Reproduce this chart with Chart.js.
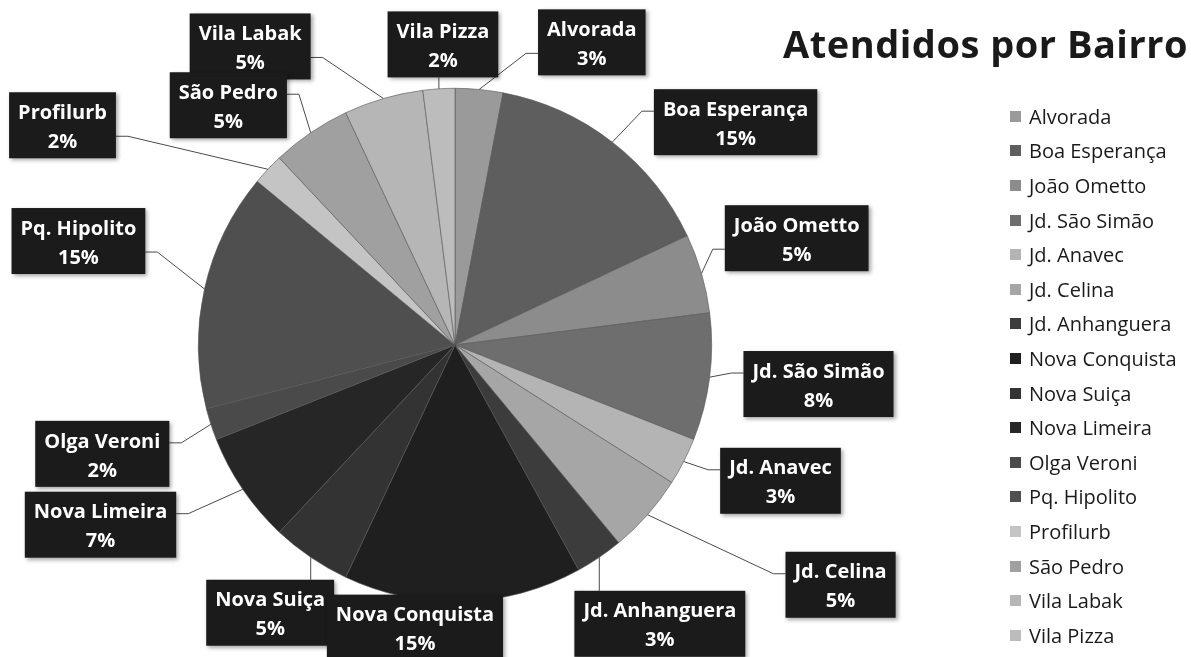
<!DOCTYPE html>
<html lang="pt-BR">
<head>
<meta charset="utf-8">
<title>Atendidos por Bairro</title>
<script src="https://cdn.jsdelivr.net/npm/chart.js@4.4.1/dist/chart.umd.min.js"></script>
<style>
  html, body { margin: 0; padding: 0; background: #fff; }
  #wrap { position: relative; width: 1191px; height: 657px; overflow: hidden; font-family: 'Open Sans', sans-serif; }
  #pizza { position: absolute; left: 0; top: 0; }
  #titulo { position: absolute; right: 3px; top: 24px; font-size: 38px; line-height: 38px; letter-spacing: 0.5px; font-weight: 700; color: #1a1a1a; white-space: nowrap; }
  #legenda { position: absolute; left: 1010px; top: 99px; }
  .leg-row { height: 34.6px; display: flex; align-items: center; font-size: 20px; color: #1a1a1a; white-space: nowrap; }
  .leg-box { width: 11px; height: 11px; margin-right: 8px; }
</style>
</head>
<body>
<div id="wrap">
  <canvas id="pizza" width="1191" height="657"></canvas>
  <div id="titulo">Atendidos por Bairro</div>
  <div id="legenda"></div>
</div>
<script>
/* Pizza "Atendidos por Bairro": fatias em tons de cinza, rótulos em caixas pretas
 * com linhas de chamada, legenda à direita. */

var bairros = ['Alvorada', 'Boa Esperança', 'João Ometto', 'Jd. São Simão', 'Jd. Anavec',
  'Jd. Celina', 'Jd. Anhanguera', 'Nova Conquista', 'Nova Suiça', 'Nova Limeira',
  'Olga Veroni', 'Pq. Hipolito', 'Profilurb', 'São Pedro', 'Vila Labak', 'Vila Pizza'];

var percentuais = [3, 15, 5, 8, 3, 5, 3, 15, 5, 7, 2, 15, 2, 5, 5, 2];

var tonsCinza = ['#9a9a9a', '#5e5e5e', '#8c8c8c', '#6e6e6e', '#b4b4b4',
  '#a6a6a6', '#3c3c3c', '#1f1f1f', '#333333', '#262626',
  '#4a4a4a', '#4f4f4f', '#c4c4c4', '#a0a0a0', '#b6b6b6', '#bcbcbc'];

// centro de cada caixa de rótulo, relativo ao centro da pizza, em raios
var rotuloDx = [0.533, 1.093, 1.331, 1.416, 1.268, 1.502, 0.798, -0.156,
  -0.720, -1.381, -1.374, -1.467, -1.529, -0.883, -0.798, -0.047];
var rotuloDy = [-1.179, -0.868, -0.416, 0.152, 0.529, 0.934, 1.086, 1.101,
  1.043, 0.700, 0.424, -0.405, -0.856, -0.934, -1.163, -1.171];

var rotulosPlugin = {
  id: 'rotulos',
  afterDatasetsDraw: function (chart) {
    var ctx = chart.ctx;
    var arcs = chart.getDatasetMeta(0).data;
    ctx.save();
    ctx.font = 'bold 20px "Open Sans"';

    var caixas = arcs.map(function (arc, i) {
      var p = arc.getProps(['x', 'y', 'startAngle', 'endAngle', 'outerRadius'], true);
      var meio = (p.startAngle + p.endAngle) / 2;
      var nome = chart.data.labels[i];
      var pct = chart.data.datasets[0].data[i] + '%';
      var w = Math.max(ctx.measureText(nome).width, ctx.measureText(pct).width) + 18;
      var h = 66;
      var cx = p.x + rotuloDx[i] * p.outerRadius;
      var cy = p.y + rotuloDy[i] * p.outerRadius;
      return {
        px: p.x + Math.cos(meio) * p.outerRadius,
        py: p.y + Math.sin(meio) * p.outerRadius,
        nome: nome, pct: pct,
        left: cx - w / 2, top: cy - h / 2, w: w, h: h
      };
    });

    // linhas de chamada
    ctx.strokeStyle = '#4a4a4a';
    ctx.lineWidth = 1;
    caixas.forEach(function (c) {
      var right = c.left + c.w, bottom = c.top + c.h;
      var ex, ey, kx, ky;
      if (c.px >= c.left && c.px <= right) {
        if (c.py > c.top && c.py < bottom) return;
        ex = c.px; ey = c.py < c.top ? c.top : bottom;
        kx = ex; ky = ey;
      } else {
        ex = c.px < c.left ? c.left : right;
        ey = c.py > bottom ? bottom - 22 : c.top + 22;
        kx = ex + (c.px < c.left ? -12 : 12); ky = ey;
      }
      ctx.beginPath();
      ctx.moveTo(c.px, c.py);
      ctx.lineTo(kx, ky);
      ctx.lineTo(ex, ey);
      ctx.stroke();
    });

    // caixas (de trás pra frente: São Pedro fica sobre Vila Labak)
    for (var i = caixas.length - 1; i >= 0; i--) {
      var c = caixas[i];
      ctx.save();
      ctx.shadowColor = 'rgba(0,0,0,0.35)';
      ctx.shadowBlur = 4;
      ctx.shadowOffsetX = 2;
      ctx.shadowOffsetY = 2;
      ctx.fillStyle = '#1b1b1b';
      ctx.fillRect(c.left, c.top, c.w, c.h);
      ctx.restore();
      ctx.fillStyle = '#ffffff';
      ctx.textAlign = 'center';
      ctx.textBaseline = 'middle';
      ctx.fillText(c.nome, c.left + c.w / 2, c.top + 21);
      ctx.fillText(c.pct, c.left + c.w / 2, c.top + 50);
    }
    ctx.restore();
  }
};

var grafico = new Chart(document.getElementById('pizza'), {
  type: 'pie',
  data: {
    labels: bairros,
    datasets: [{
      data: percentuais,
      backgroundColor: tonsCinza,
      borderColor: '#555555',
      borderWidth: 0.6
    }]
  },
  options: {
    responsive: false,
    animation: false,
    layout: { padding: { left: 198, right: 479, top: 88, bottom: 55 } },
    plugins: {
      legend: { display: false },
      title: { display: false },
      tooltip: { enabled: false }
    }
  },
  plugins: [rotulosPlugin]
});

function montarLegenda(chart) {
  var wrap = document.getElementById('legenda');
  wrap.innerHTML = '';
  chart.data.labels.forEach(function (nome, i) {
    var row = document.createElement('div');
    row.className = 'leg-row';
    var box = document.createElement('span');
    box.className = 'leg-box';
    box.style.background = chart.data.datasets[0].backgroundColor[i];
    var txt = document.createElement('span');
    txt.textContent = nome;
    row.appendChild(box);
    row.appendChild(txt);
    wrap.appendChild(row);
  });
}

montarLegenda(grafico);
</script>
</body>
</html>
